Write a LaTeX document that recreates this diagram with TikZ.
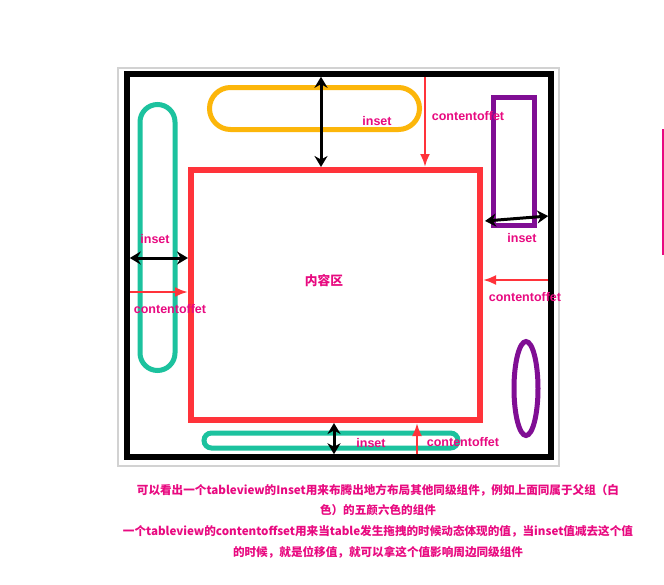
\documentclass[tikz,border=0pt]{standalone}
\usepackage{fontspec}
\setmainfont{Liberation Sans}
\newfontfamily\cjk{Noto Sans CJK SC}
\usetikzlibrary{shapes.geometric,arrows.meta}
\definecolor{tvred}{RGB}{255,51,58}
\definecolor{tvyellow}{RGB}{252,182,10}
\definecolor{tvteal}{RGB}{28,194,158}
\definecolor{tvpurple}{RGB}{128,14,148}
\definecolor{tvpink}{RGB}{232,10,128}

\begin{document}
\begin{tikzpicture}[
  x=1pt,y=-1pt,
  bar/.style={draw,line width=5pt,inner sep=0pt,outer sep=0pt},
  lbl/.style={text=tvpink,font=\bfseries\fontsize{12.5}{14}\selectfont,inner sep=1pt},
  inarrow/.style={{Stealth[length=11pt,width=13pt]}-{Stealth[length=11pt,width=13pt]},line width=3pt},
  offarrow/.style={-{Latex[length=13pt,width=10pt]},draw=tvred,line width=2.5pt}
]
\useasboundingbox (0,0) rectangle (664,584);

% white parent view
\node[draw=gray!35,line width=1.2pt,fill=white,minimum width=441pt,minimum height=398pt,inner sep=0pt] (panel) at (338.5,267) {};
\node[bar,black,line width=5.5pt,outer sep=-2.75pt,minimum width=424pt,minimum height=383pt] (container) at (339,265.5) {};

% sibling components
\node[bar,tvyellow,rounded corners=21pt,minimum width=210pt,minimum height=42pt] (topbar) at (314.5,108.5) {};
\node[bar,tvteal,rounded corners=17.5pt,minimum width=35pt,minimum height=266pt] (leftbar) at (157.5,237.5) {};
\node[bar,tvpurple,minimum width=41pt,minimum height=128pt] (rightbox) at (514,161.5) {};
\node[bar,tvpurple,ellipse,minimum width=24pt,minimum height=94pt] (rightoval) at (526,388.5) {};
\node[bar,tvteal,rounded corners=7.5pt,minimum width=254pt,minimum height=15pt] (bottombar) at (331,440.5) {};

% table content
\node[bar,tvred,line width=6pt,outer sep=3pt,minimum width=289pt,minimum height=250pt] (content) at (335.5,295) {};
\node[text=tvpink,font=\cjk\bfseries\fontsize{12.7}{14}\selectfont] (contentlbl) at (324,281) {内容区};

% insets
\coordinate (rin) at (485,221);
\draw[inarrow] (container.north -| 321,0) -- (content.north -| 321,0);
\draw[inarrow] (container.west |- 0,258) -- (content.west |- 0,258);
\draw[inarrow] (rin) -- (container.east |- 0,216);
\draw[inarrow] (content.south -| 334,0) -- (container.south -| 334,0);
\node[lbl] (inset1) at (377,121) {inset};
\node[lbl] (inset2) at (155,239) {inset};
\node[lbl] (inset3) at (522,238) {inset};
\node[lbl] (inset4) at (371,443) {inset};

% content offsets
\draw[offarrow] (container.north -| 425,0) -- (content.north -| 425,0);
\draw[offarrow] (container.west |- 0,292) -- (content.west |- 0,292);
\draw[offarrow] (container.east |- 0,280) -- (content.east |- 0,280);
\draw[offarrow] (container.south -| 417,0) -- (content.south -| 417,0);
\node[lbl] (offset1) at (468,116) {contentoffet};
\node[lbl] (offset2) at (170,309) {contentoffet};
\node[lbl] (offset3) at (525,297) {contentoffet};
\node[lbl] (offset4) at (463,442) {contentoffet};

% cut-off mark at the right edge
\draw[tvpink,line width=1.5pt] (663,129) -- (663,255);

% caption
\node[text=tvpink,align=center,font=\cjk\bfseries\fontsize{11.6}{20.7}\selectfont] (caption) at (378,521)
  {可以看出一个tableview的Inset用来布腾出地方布局其他同级组件，例如上面同属于父组（白\\
   色）的五颜六色的组件\\
   一个tableview的contentoffset用来当table发生拖拽的时候动态体现的值，当inset值减去这个值\\
   的时候，就是位移值，就可以拿这个值影响周边同级组件};
\end{tikzpicture}
\end{document}
